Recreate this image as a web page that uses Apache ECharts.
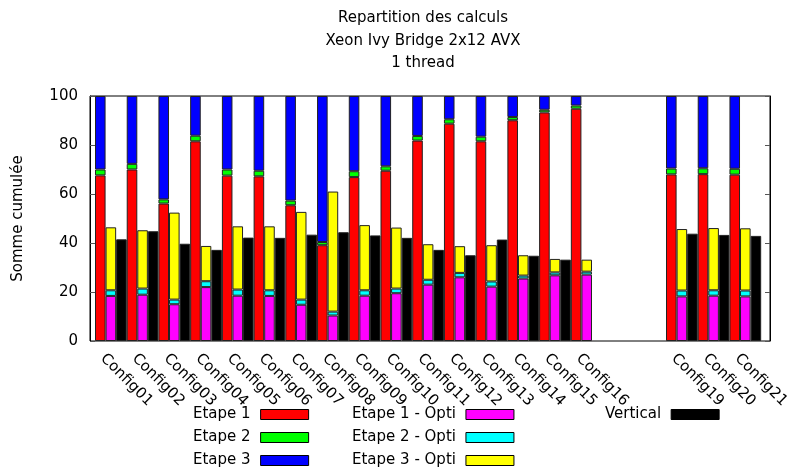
<!DOCTYPE html>
<html>
<head>
<meta charset="utf-8">
<script src="https://cdn.jsdelivr.net/npm/echarts@6/dist/echarts.min.js"></script>
<style>
html,body{margin:0;padding:0;background:#fff;}
#chart{width:792px;height:473px;}
</style>
</head>
<body>
<div id="chart"></div>
<script>
var categories = ['Config01','Config02','Config03','Config04','Config05','Config06','Config07','Config08','Config09','Config10','Config11','Config12','Config13','Config14','Config15','Config16','','','Config19','Config20','Config21'];
var etape1 = [67.6,70.0,56.1,81.5,67.5,67.2,55.4,39.1,66.9,69.5,81.8,88.7,81.5,90.1,93.3,94.8,null,null,68.0,68.1,67.9];
var etape2 = [2.4,2.3,1.7,2.3,2.5,2.3,1.9,1.3,2.4,1.8,1.9,1.8,1.9,1.3,1.1,1.3,null,null,2.4,2.4,2.4];
var etape3 = [30.0,27.7,42.2,16.2,30.0,30.5,42.7,59.6,30.7,28.7,16.3,9.5,16.6,8.6,5.6,3.9,null,null,29.6,29.5,29.7];
var opti1 = [18.4,18.9,15.0,22.0,18.5,18.4,14.8,10.4,18.5,19.5,23.0,26.0,22.2,25.5,26.8,27.1,null,null,18.2,18.5,18.2];
var opti2 = [2.3,2.5,1.9,2.4,2.5,2.3,2.1,1.6,2.2,1.9,2.0,1.8,2.1,1.2,1.2,1.2,null,null,2.4,2.2,2.4];
var opti3 = [25.7,23.8,35.5,14.4,25.8,26.1,35.8,49.0,26.6,24.9,14.5,10.9,14.8,8.3,5.5,4.9,null,null,25.1,25.4,25.4];
var vertical = [41.5,44.8,39.7,37.2,42.2,42.1,43.4,44.4,43.1,42.1,37.2,35.0,41.4,34.8,33.2,null,null,null,43.8,43.3,42.9];
var yTicks = {min: 0, max: 100, interval: 20};

var FONT = 'DejaVu Sans';
var chart = echarts.init(document.getElementById('chart'), null, {renderer: 'canvas'});

function bar(name, data, stack, color) {
  return {
    name: name, type: 'bar', stack: stack, data: data,
    xAxisIndex: 1, yAxisIndex: 2,
    barGap: '0%', barCategoryGap: '0%',
    itemStyle: {color: color, borderColor: '#222', borderWidth: 1},
    emphasis: {disabled: true},
    animation: false
  };
}

var legendBase = {
  orient: 'vertical', align: 'right', itemWidth: 48, itemHeight: 10, itemGap: 8,
  icon: 'rect', padding: 0,
  itemStyle: {borderColor: '#000', borderWidth: 1},
  textStyle: {fontFamily: FONT, fontSize: 15, color: '#000', lineHeight: 15, padding: [0, 5, 0, 0]},
  selectedMode: false
};

var option = {
  animation: false,
  backgroundColor: '#fff',
  title: {
    text: 'Repartition des calculs\nXeon Ivy Bridge 2x12 AVX\n1 thread',
    left: 423, top: 7, padding: 0, textAlign: 'center',
    textStyle: {fontFamily: FONT, fontSize: 15, fontWeight: 'normal', color: '#000', lineHeight: 22.5}
  },
  legend: [
    Object.assign({}, legendBase, {left: 193, top: 407, data: ['Etape 1','Etape 2','Etape 3']}),
    Object.assign({}, legendBase, {left: 352, top: 407, data: ['Etape 1 - Opti','Etape 2 - Opti','Etape 3 - Opti']}),
    Object.assign({}, legendBase, {left: 605, top: 407, data: ['Vertical']})
  ],
  grid: [
    {left: 90, right: 22, top: 96, bottom: 132, show: true, borderColor: '#000', borderWidth: 1, containLabel: false},
    {left: 95, right: 25, top: 96, bottom: 132, containLabel: false}
  ],
  xAxis: [
    {gridIndex: 0, type: 'value', min: 0, max: 1, show: false},
    {
      gridIndex: 1, type: 'category', data: categories,
      axisLine: {show: false},
      axisTick: {show: false},
      axisLabel: {interval: 0, rotate: -45, fontFamily: FONT, fontSize: 15, color: '#000', margin: 7, verticalAlign: 'top', padding: [4, 0, 0, 0]}
    }
  ],
  yAxis: [
    {
      gridIndex: 0, type: 'value', min: yTicks.min, max: yTicks.max, interval: yTicks.interval,
      name: 'Somme cumulée', nameLocation: 'middle', nameRotate: 90, nameGap: 64,
      nameTextStyle: {fontFamily: FONT, fontSize: 15, color: '#000'},
      axisLine: {show: true, onZero: false, lineStyle: {color: '#000'}},
      axisTick: {show: true, inside: true, length: 5, lineStyle: {color: '#555'}},
      axisLabel: {fontFamily: FONT, fontSize: 15, color: '#000', margin: 12},
      splitLine: {show: false}
    },
    {
      gridIndex: 0, type: 'value', position: 'right', min: yTicks.min, max: yTicks.max, interval: yTicks.interval,
      axisLine: {show: true, onZero: false, lineStyle: {color: '#000'}},
      axisTick: {show: true, inside: true, length: 5, lineStyle: {color: '#555'}},
      axisLabel: {show: false},
      splitLine: {show: false}
    },
    {
      gridIndex: 1, type: 'value', min: yTicks.min, max: yTicks.max, interval: yTicks.interval, show: false
    }
  ],
  series: [
    bar('Etape 1', etape1, 'a', '#ff0000'),
    bar('Etape 2', etape2, 'a', '#00ff00'),
    bar('Etape 3', etape3, 'a', '#0000ff'),
    bar('Etape 1 - Opti', opti1, 'b', '#ff00ff'),
    bar('Etape 2 - Opti', opti2, 'b', '#00ffff'),
    bar('Etape 3 - Opti', opti3, 'b', '#ffff00'),
    bar('Vertical', vertical, 'v', '#000000')
  ]
};
chart.setOption(option);
</script>
</body>
</html>
